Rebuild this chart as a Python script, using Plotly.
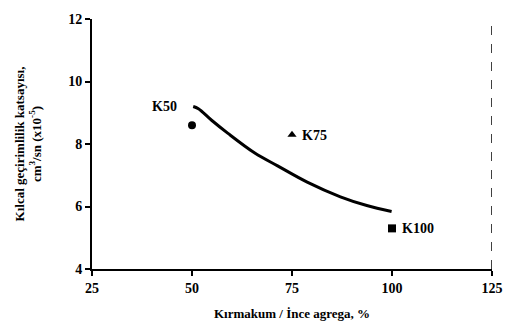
import plotly.graph_objects as go

# Data points
names = ["K50", "K75", "K100"]
x_pts = [50, 75, 100]
y_pts = [8.6, 8.3, 5.3]
symbols = ["circle", "triangle-up", "square"]
label_shift_x = [-28, 22, 26]
label_shift_y = [19, -1, 0]

# Trend curve
curve_x = [50.3, 51.6, 54.9, 59.0, 65.6, 71.4, 78.8, 87.1, 93.7, 99.9]
curve_y = [9.20, 9.13, 8.76, 8.34, 7.72, 7.30, 6.78, 6.31, 6.03, 5.84]

x_ticks = [25, 50, 75, 100, 125]
y_ticks = [4, 6, 8, 10, 12]

font_family = "Liberation Serif"

fig = go.Figure()
fig.add_trace(go.Scatter(x=curve_x, y=curve_y, mode="lines",
                         line=dict(color="black", width=3, shape="spline"),
                         showlegend=False, hoverinfo="skip"))
for n, xv, yv, s, dx, dy in zip(names, x_pts, y_pts, symbols, label_shift_x, label_shift_y):
    fig.add_trace(go.Scatter(x=[xv], y=[yv], mode="markers",
                             marker=dict(symbol=s, size=8, color="black"),
                             showlegend=False))
    fig.add_annotation(x=xv, y=yv, text="<b>" + n + "</b>", showarrow=False,
                       xshift=dx, yshift=dy,
                       font=dict(family=font_family, size=14, color="black"))

fig.add_shape(type="line", xref="x", yref="y", x0=125, x1=125, y0=4, y1=12,
              line=dict(color="black", width=1.5, dash="dash"))

fig.update_layout(
    width=515, height=333,
    margin=dict(l=92, r=19, t=12, b=64),
    plot_bgcolor="white", paper_bgcolor="white",
    font=dict(family=font_family, color="black", size=13),
    xaxis=dict(range=[25, 125], tickvals=x_ticks, ticktext=["<b>%d</b>" % v for v in x_ticks],
               showgrid=False, zeroline=False, showline=True, linecolor="black", linewidth=2,
               ticks="outside", ticklen=5, tickwidth=2, tickcolor="black",
               tickfont=dict(size=14),
               title=dict(text="<b>Kırmakum / İnce agrega, %</b>", font=dict(size=13), standoff=14)),
    yaxis=dict(range=[4, 12], tickvals=y_ticks, ticktext=["<b>%d</b>" % v for v in y_ticks],
               showgrid=False, zeroline=False, showline=True, linecolor="black", linewidth=2,
               ticks="outside", ticklen=5, tickwidth=2, tickcolor="black",
               tickfont=dict(size=14),
               title=dict(text="<b>Kılcal geçirimlilik katsayısı,<br>cm<sup>3</sup>/sn (x10<sup>-5</sup>)</b>",
                          font=dict(size=13), standoff=24)),
)

fig.write_html("out.html")
